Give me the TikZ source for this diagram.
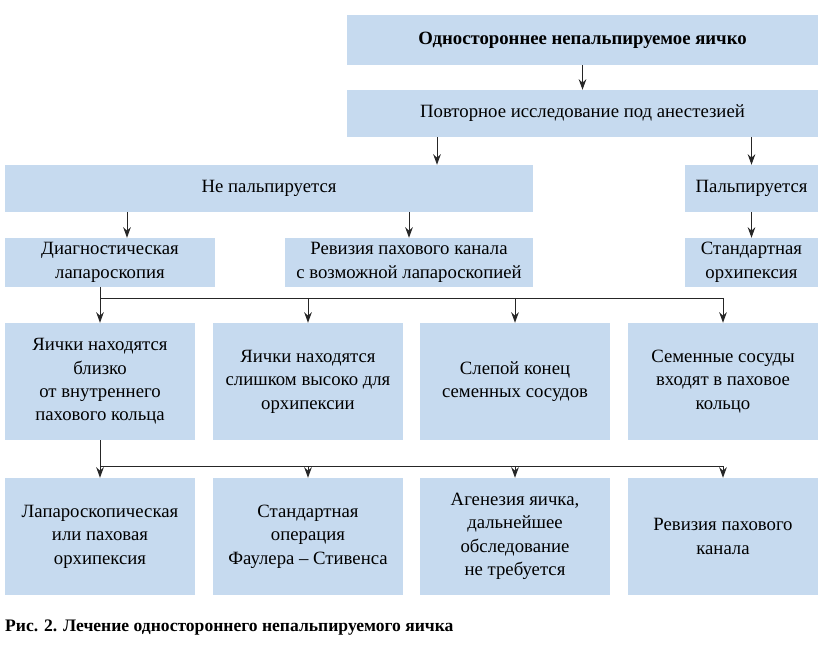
\documentclass[tikz,border=0pt]{standalone}
\usepackage{fontspec}
\setmainfont{Liberation Serif}
\usepackage{tikz}
\usetikzlibrary{arrows.meta}
\definecolor{boxblue}{RGB}{198,218,239}
\tikzset{
  box/.style={fill=boxblue, inner sep=0pt, align=center, font=\fontsize{16}{20}\selectfont},
  arr/.style={-{Stealth[length=9pt,width=6.5pt]}, thick, black!85},
  ln/.style={thick, black!85}
}
\begin{document}
\begin{tikzpicture}[x=0.03cm, y=-0.03cm]
\useasboundingbox (0,0) rectangle (834,651);
% rows of boxes
\node[box, minimum width=471*0.03cm, minimum height=50*0.03cm] (top) at (582.5,40) {\textbf{Одностороннее непальпируемое яичко}};
\node[box, minimum width=471*0.03cm, minimum height=47*0.03cm] (exam) at (582.5,113.5) {Повторное исследование под анестезией};
\node[box, minimum width=528*0.03cm, minimum height=47*0.03cm] (nopalp) at (269,188.5) {Не пальпируется};
\node[box, minimum width=133*0.03cm, minimum height=47*0.03cm] (palp) at (751.5,188.5) {Пальпируется};
\node[box, minimum width=210*0.03cm, minimum height=49*0.03cm] (lap) at (110,262.5) {Диагностическая\\лапароскопия};
\node[box, minimum width=248*0.03cm, minimum height=49*0.03cm] (rev) at (409,262.5) {Ревизия пахового канала\\с возможной лапароскопией};
\node[box, minimum width=133*0.03cm, minimum height=49*0.03cm] (orch) at (751.5,262.5) {Стандартная\\орхипексия};
% findings
\node[box, minimum width=190*0.03cm, minimum height=117*0.03cm] (f1) at (100,381.5) {Яички находятся\\близко\\от внутреннего\\пахового кольца};
\node[box, minimum width=190*0.03cm, minimum height=117*0.03cm] (f2) at (308,381.5) {Яички находятся\\слишком высоко для\\орхипексии};
\node[box, minimum width=190*0.03cm, minimum height=117*0.03cm] (f3) at (515,381.5) {Слепой конец\\семенных сосудов};
\node[box, minimum width=190*0.03cm, minimum height=117*0.03cm] (f4) at (723,381.5) {Семенные сосуды\\входят в паховое\\кольцо};
% treatment
\node[box, minimum width=190*0.03cm, minimum height=117*0.03cm] (t1) at (100,536.5) {Лапароскопическая\\или паховая\\орхипексия};
\node[box, minimum width=190*0.03cm, minimum height=117*0.03cm] (t2) at (308,536.5) {Стандартная\\операция\\Фаулера – Стивенса};
\node[box, minimum width=190*0.03cm, minimum height=117*0.03cm] (t3) at (515,536.5) {Агенезия яичка,\\дальнейшее\\обследование\\не требуется};
\node[box, minimum width=190*0.03cm, minimum height=117*0.03cm] (t4) at (723,536.5) {Ревизия пахового\\канала};
\node[anchor=west, inner sep=0pt, font=\fontsize{15}{17}\selectfont\bfseries] (cap) at (5,628) {Рис. 2. Лечение одностороннего непальпируемого яичка};
% arrows
\draw[arr] (top) -- (exam);
\draw[arr] (exam.south -| 437,0) -- (nopalp.north -| 437,0);
\draw[arr] (exam.south -| palp) -- (palp);
\draw[arr] (nopalp.south -| lap.north) ++(17,0) coordinate (a1) -- (a1 |- lap.north);
\draw[arr] (nopalp.south -| rev) -- (rev);
\draw[arr] (palp) -- (orch);
% branches
\coordinate (j1) at (100,298);
\coordinate (j2) at (723,298);
\draw[ln] (lap.south -| j1) -- (j1) -- (j2);
\foreach \f in {f1,f2,f3,f4} \draw[arr] (j1 -| \f) -- (\f);
\coordinate (k1) at (100,466);
\coordinate (k2) at (723,466);
\draw[ln] (f1) -- (k1) -- (k2);
\foreach \t in {t1,t2,t3,t4} \draw[arr] (k1 -| \t) -- (\t);
\end{tikzpicture}
\end{document}
